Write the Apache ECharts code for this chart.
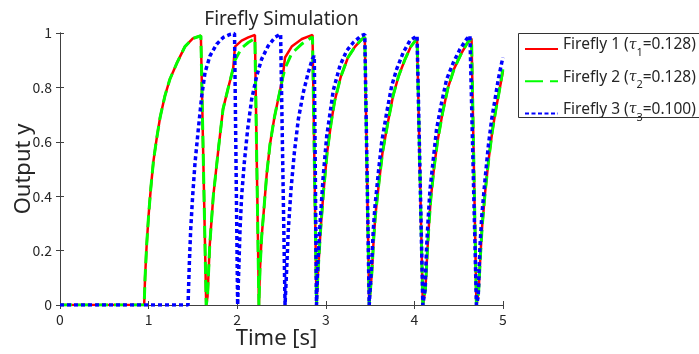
<!DOCTYPE html>
<html>
<head>
<meta charset="utf-8">
<script src="https://cdn.jsdelivr.net/npm/echarts@6/dist/echarts.min.js"></script>
<style>
  html, body { margin: 0; padding: 0; background: #fff; }
  #chart { width: 699px; height: 354px; }
</style>
</head>
<body>
<div id="chart"></div>
<script>
// values, [time, output]
const firefly1 = [
  [0, 0], [0.95, 0],
  [0.96, 0.10], [0.978, 0.22], [1.0, 0.33], [1.025, 0.43], [1.055, 0.53], [1.09, 0.61],
  [1.13, 0.69], [1.185, 0.77], [1.24, 0.83], [1.32, 0.89], [1.41, 0.95], [1.5, 0.98], [1.59, 0.99],
  [1.65, 0],
  [1.665, 0.03], [1.69, 0.22], [1.73, 0.40], [1.79, 0.58], [1.84, 0.72], [1.9, 0.80], [1.955, 0.87],
  [1.975, 0.95], [2.05, 0.972], [2.125, 0.984], [2.2, 0.993],
  [2.245, 0],
  [2.257, 0.13], [2.276, 0.25], [2.306, 0.37], [2.333, 0.48], [2.37, 0.59], [2.42, 0.69],
  [2.465, 0.76], [2.51, 0.83], [2.54, 0.91], [2.615, 0.95], [2.73, 0.978], [2.85, 0.993],
  [2.895, 0],
  [2.912, 0.12], [2.94, 0.27], [2.975, 0.42], [3.015, 0.56], [3.06, 0.67], [3.1, 0.75],
  [3.17, 0.84], [3.25, 0.91], [3.33, 0.95], [3.4, 0.975], [3.44, 0.985],
  [3.49, 0],
  [3.52, 0.12], [3.54, 0.24], [3.56, 0.33], [3.6, 0.45], [3.64, 0.56], [3.7, 0.67], [3.76, 0.77],
  [3.82, 0.84], [3.89, 0.9], [3.96, 0.95], [4.03, 0.98], [4.045, 0.985],
  [4.095, 0],
  [4.125, 0.06], [4.145, 0.19], [4.165, 0.3], [4.185, 0.39], [4.22, 0.5], [4.26, 0.6], [4.32, 0.71],
  [4.38, 0.8], [4.45, 0.87], [4.53, 0.925], [4.6, 0.965], [4.645, 0.98],
  [4.7, 0],
  [4.725, 0.05], [4.745, 0.18], [4.765, 0.29], [4.8, 0.42], [4.84, 0.54], [4.88, 0.64], [4.92, 0.72],
  [4.96, 0.79], [5, 0.86]
];

const firefly2 = [
  [0, 0], [0.95, 0],
  [0.96, 0.10], [0.978, 0.22], [1.0, 0.33], [1.025, 0.43], [1.055, 0.53], [1.09, 0.61],
  [1.13, 0.69], [1.185, 0.77], [1.24, 0.83], [1.32, 0.89], [1.41, 0.95], [1.5, 0.98], [1.59, 0.99],
  [1.65, 0],
  [1.665, 0.03], [1.69, 0.22], [1.73, 0.40], [1.79, 0.58], [1.84, 0.72], [1.9, 0.80], [1.955, 0.87],
  [1.975, 0.90], [2.05, 0.945], [2.125, 0.965], [2.2, 0.98],
  [2.245, 0],
  [2.257, 0.13], [2.276, 0.25], [2.306, 0.37], [2.333, 0.48], [2.37, 0.59], [2.42, 0.69],
  [2.465, 0.76], [2.51, 0.83], [2.54, 0.87], [2.615, 0.925], [2.73, 0.96], [2.85, 0.985],
  [2.895, 0],
  [2.912, 0.12], [2.94, 0.27], [2.975, 0.42], [3.015, 0.56], [3.06, 0.67], [3.1, 0.75],
  [3.17, 0.84], [3.25, 0.91], [3.33, 0.95], [3.4, 0.975], [3.44, 0.985],
  [3.49, 0],
  [3.52, 0.12], [3.54, 0.24], [3.56, 0.33], [3.6, 0.45], [3.64, 0.56], [3.7, 0.67], [3.76, 0.77],
  [3.82, 0.84], [3.89, 0.9], [3.96, 0.95], [4.03, 0.98], [4.045, 0.985],
  [4.095, 0],
  [4.125, 0.06], [4.145, 0.19], [4.165, 0.3], [4.185, 0.39], [4.22, 0.5], [4.26, 0.6], [4.32, 0.71],
  [4.38, 0.8], [4.45, 0.87], [4.53, 0.925], [4.6, 0.965], [4.645, 0.98],
  [4.7, 0],
  [4.725, 0.05], [4.745, 0.18], [4.765, 0.29], [4.8, 0.42], [4.84, 0.54], [4.88, 0.64], [4.92, 0.72],
  [4.96, 0.79], [5, 0.87]
];

const firefly3 = [
  [0, 0], [1.445, 0],
  [1.46, 0.154], [1.475, 0.277], [1.497, 0.40], [1.524, 0.523], [1.561, 0.646], [1.6, 0.769],
  [1.637, 0.855], [1.693, 0.916], [1.768, 0.959], [1.843, 0.984], [1.92, 0.995], [1.97, 0.998],
  [2.005, 0],
  [2.02, 0.154], [2.032, 0.277], [2.05, 0.40], [2.08, 0.523], [2.118, 0.646], [2.163, 0.756],
  [2.22, 0.842], [2.276, 0.904], [2.35, 0.953], [2.427, 0.984], [2.49, 0.996],
  [2.54, 0],
  [2.558, 0.129], [2.577, 0.277], [2.607, 0.424], [2.645, 0.56], [2.69, 0.683], [2.746, 0.781],
  [2.802, 0.855], [2.848, 0.904], [2.87, 0.916],
  [2.895, 0],
  [2.91, 0.15], [2.935, 0.30], [2.97, 0.47], [3.01, 0.62], [3.05, 0.71], [3.085, 0.79],
  [3.16, 0.88], [3.236, 0.935], [3.31, 0.965], [3.4, 0.99], [3.44, 0.995],
  [3.49, 0],
  [3.518, 0.154], [3.536, 0.277], [3.555, 0.363], [3.593, 0.486], [3.63, 0.597], [3.687, 0.707],
  [3.744, 0.806], [3.8, 0.867], [3.875, 0.929], [3.95, 0.972], [4.03, 0.99], [4.045, 0.995],
  [4.095, 0],
  [4.12, 0.055], [4.138, 0.215], [4.157, 0.326], [4.176, 0.424], [4.213, 0.535], [4.25, 0.646],
  [4.307, 0.744], [4.364, 0.83], [4.44, 0.892], [4.515, 0.941], [4.59, 0.978], [4.627, 0.99], [4.645, 0.992],
  [4.7, 0],
  [4.72, 0.03], [4.74, 0.215], [4.76, 0.326], [4.797, 0.461], [4.834, 0.584], [4.872, 0.683],
  [4.91, 0.756], [4.947, 0.83], [4.985, 0.89], [5, 0.91]
];

const seriesNames = ["Firefly 1", "Firefly 2", "Firefly 3"];
const tauLabels = ["0.128", "0.128", "0.100"];
const xTicks = [0, 1, 2, 3, 4, 5];
const yTicks = [0, 0.2, 0.4, 0.6, 0.8, 1];

const tickFont = "Noto Sans CJK JP";
const textFont = "Noto Sans";
const axisColor = "#404040";
const textColor = "#262626";

const chart = echarts.init(document.getElementById("chart"), null, { renderer: "canvas" });

const baseAxis = {
  axisLine: { show: true, lineStyle: { color: axisColor, width: 1 } },
  axisTick: { show: true, inside: true, length: 4, lineStyle: { color: axisColor } },
  splitLine: { show: false },
  axisLabel: { color: textColor, fontFamily: tickFont, fontSize: 14 }
};

chart.setOption({
  animation: false,
  title: {
    text: "Firefly Simulation",
    left: 276.5,
    textAlign: "center",
    top: 5,
    textStyle: { fontFamily: textFont, fontSize: 19, fontWeight: "normal", color: textColor }
  },
  grid: { left: 60, right: 196, top: 33, bottom: 49, outerBoundsMode: "none" },
  // legend frame, runs off the right edge like the reference
  graphic: [
    {
      type: "rect",
      left: 518,
      top: 33,
      shape: { width: 190, height: 84 },
      style: { fill: "#fff", stroke: "#333", lineWidth: 1 },
      z: 0
    }
  ],
  legend: {
    orient: "vertical",
    left: 518,
    top: 33,
    itemWidth: 33,
    itemHeight: 14,
    itemGap: 8.2,
    padding: [4, 6, 0, 6],
    borderWidth: 0,
    itemStyle: { opacity: 0 },
    z: 10,
    data: [
      { name: seriesNames[0] },
      { name: seriesNames[1], lineStyle: { type: [18, 7] } },
      { name: seriesNames[2], lineStyle: { type: [4, 2.5] } }
    ],
    formatter: (name) => {
      const i = seriesNames.indexOf(name);
      return "{n|" + name + " (}{t|τ}{s|" + (i + 1) + "}{n|=" + tauLabels[i] + ")}";
    },
    textStyle: {
      fontFamily: textFont,
      fontSize: 15.5,
      color: textColor,
      rich: {
        n: { fontFamily: textFont, fontSize: 15.5, color: textColor, lineHeight: 18, padding: [0, 0, 8, 0] },
        t: { fontFamily: "DejaVu Serif", fontStyle: "italic", fontSize: 14, color: textColor, lineHeight: 18, padding: [0, 0, 8, 0] },
        s: { fontFamily: textFont, fontSize: 11, color: textColor, lineHeight: 12, padding: [8, 0, 0, 0] }
      }
    }
  },
  xAxis: [
    {
      ...baseAxis,
      type: "value",
      min: xTicks[0],
      max: xTicks[xTicks.length - 1],
      interval: 1,
      name: "Time [s]",
      nameLocation: "middle",
      nameGap: 23,
      nameMoveOverlap: false,
      nameTextStyle: { fontFamily: textFont, fontSize: 22, color: textColor, padding: [0, 10, 0, 0] },
      axisLabel: { ...baseAxis.axisLabel, margin: 8 }
    },
    {
      ...baseAxis,
      type: "value",
      position: "top",
      min: xTicks[0],
      max: xTicks[xTicks.length - 1],
      interval: 1,
      axisLabel: { show: false }
    }
  ],
  yAxis: [
    {
      ...baseAxis,
      type: "value",
      min: yTicks[0],
      max: yTicks[yTicks.length - 1],
      interval: 0.2,
      name: "Output y",
      nameLocation: "middle",
      nameGap: 25,
      nameMoveOverlap: false,
      nameTextStyle: { fontFamily: textFont, fontSize: 22, color: textColor },
      axisLabel: { ...baseAxis.axisLabel, margin: 8 }
    },
    {
      ...baseAxis,
      type: "value",
      position: "right",
      min: yTicks[0],
      max: yTicks[yTicks.length - 1],
      interval: 0.2,
      axisLabel: { show: false }
    }
  ],
  series: [
    {
      name: seriesNames[0],
      type: "line",
      data: firefly1,
      showSymbol: false,
      symbol: "none",
      lineStyle: { color: "#ff0000", width: 2.5 },
      itemStyle: { color: "#ff0000" },
      z: 2
    },
    {
      name: seriesNames[1],
      type: "line",
      data: firefly2,
      showSymbol: false,
      symbol: "none",
      lineStyle: { color: "#00ff00", width: 3, type: [12, 6] },
      itemStyle: { color: "#00ff00" },
      z: 3
    },
    {
      name: seriesNames[2],
      type: "line",
      data: firefly3,
      showSymbol: false,
      symbol: "none",
      lineStyle: { color: "#0000ff", width: 3.5, type: [4, 3] },
      itemStyle: { color: "#0000ff" },
      z: 4
    }
  ]
});
</script>
</body>
</html>
